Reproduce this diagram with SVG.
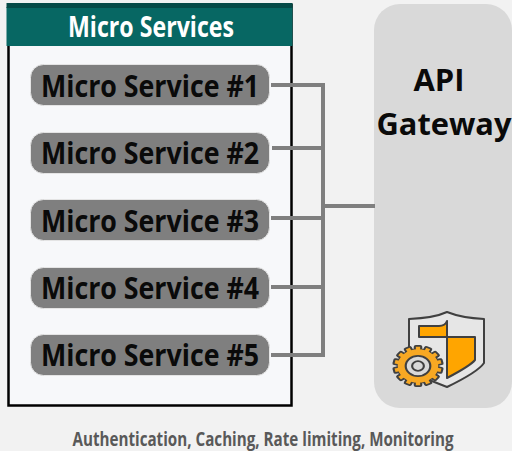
<svg xmlns="http://www.w3.org/2000/svg" width="512" height="451" viewBox="0 0 512 451">
<style>
.pill{fill:#7f7f7f;stroke:#e4e4e4;stroke-width:1}
.pt{font:700 29.500px "Open Sans","Noto Sans",sans-serif;fill:#0a0a0a;text-anchor:middle}
.c{fill:none;stroke:#7f7f7f;stroke-width:4}
.ic{stroke:#404040;stroke-width:2;stroke-linejoin:round}
</style>
<defs>
<rect id="tooth" x="-3" y="-23" width="6" height="46" rx="1" fill="#f7a823" stroke="#404040" stroke-width="2"/>
</defs>
<rect width="512" height="451" fill="#f2f2f2"/>
<g id="gateway">
<rect x="374" y="4" width="138" height="404" rx="26" fill="#d9d9d9"/>
<text x="439" y="91" font-family="'Open Sans','Noto Sans',sans-serif" font-weight="700" font-size="30" text-anchor="middle" fill="#0a0a0a" textLength="51" lengthAdjust="spacingAndGlyphs">API</text>
<text x="444" y="135" font-family="'Open Sans','Noto Sans',sans-serif" font-weight="700" font-size="30" text-anchor="middle" fill="#0a0a0a" textLength="135" lengthAdjust="spacingAndGlyphs">Gateway</text>
</g>
<g id="security-icon">
<path class="ic" d="M409 319Q434 318 447 312Q462 318 484 319V363Q478 372 447 387L409 372Z" fill="#e6e6e6"/>
<path class="ic" d="M419 326H439Q445 326 447 321V337H419Z" fill="#ffa500"/>
<path class="ic" d="M447 337H475V360Q470 366 447 378Z" fill="#ffa500"/>
<path d="M447 321V378" class="ic" fill="none"/>
<g transform="translate(418 366) scale(1.070 .880)">
<circle r="19" fill="#f7a823" stroke="#404040" stroke-width="2"/>
<use href="#tooth"/>
<use href="#tooth" transform="rotate(25.700)"/>
<use href="#tooth" transform="rotate(51.400)"/>
<use href="#tooth" transform="rotate(77.100)"/>
<use href="#tooth" transform="rotate(102.900)"/>
<use href="#tooth" transform="rotate(128.600)"/>
<use href="#tooth" transform="rotate(154.300)"/>
<circle r="19" fill="#f7a823"/>
<circle r="11.500" fill="#d9d9d9" stroke="#404040" stroke-width="2"/>
<circle r="5.500" fill="#d9d9d9" stroke="#404040" stroke-width="2"/>
</g>
</g>
<g id="panel">
<rect x="8.500" y="5" width="283" height="400.500" fill="#f7f8fa" stroke="#000" stroke-width="2.500"/>
<rect x="6.500" y="7" width="286" height="39" fill="#076763"/>
<rect x="6.500" y="3" width="286" height="5" fill="#054a47"/>
<text x="151" y="37" font-family="'Open Sans','Noto Sans',sans-serif" font-weight="700" font-size="28" text-anchor="middle" fill="#fff" textLength="166" lengthAdjust="spacingAndGlyphs">Micro Services</text>
</g>
<g id="connectors">
<path class="c" d="M271 85H323V355H271"/>
<path class="c" d="M272 148H323"/>
<path class="c" d="M271 218H323"/>
<path class="c" d="M271 287H323"/>
<path class="c" d="M323 206H375"/>
</g>
<g id="service-1"><rect class="pill" x="30.500" y="64.500" width="239" height="41" rx="13"/><text class="pt" x="150" y="97" textLength="218" lengthAdjust="spacingAndGlyphs">Micro Service #1</text></g>
<g id="service-2"><rect class="pill" x="30.500" y="132.500" width="239" height="41" rx="13"/><text class="pt" x="150" y="164" textLength="218" lengthAdjust="spacingAndGlyphs">Micro Service #2</text></g>
<g id="service-3"><rect class="pill" x="30.500" y="199.500" width="239" height="41" rx="13"/><text class="pt" x="150" y="232" textLength="218" lengthAdjust="spacingAndGlyphs">Micro Service #3</text></g>
<g id="service-4"><rect class="pill" x="30.500" y="267.500" width="239" height="41" rx="13"/><text class="pt" x="150" y="299" textLength="218" lengthAdjust="spacingAndGlyphs">Micro Service #4</text></g>
<g id="service-5"><rect class="pill" x="30.500" y="334.500" width="239" height="41" rx="13"/><text class="pt" x="150" y="366" textLength="218" lengthAdjust="spacingAndGlyphs">Micro Service #5</text></g>
<text id="caption" transform="translate(263 446) scale(.8 1)" font-family="'Open Sans','Noto Sans',sans-serif" font-weight="700" font-size="19" text-anchor="middle" fill="#595959">Authentication, Caching, Rate limiting, Monitoring</text>
</svg>
